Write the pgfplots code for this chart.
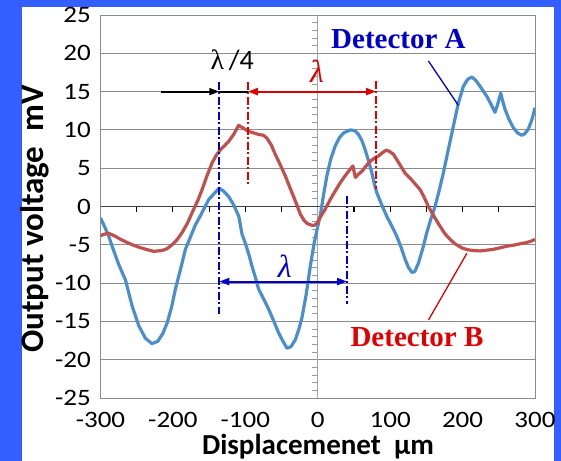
\documentclass[border=0pt]{standalone}
\usepackage{fontspec}
\setmainfont{Carlito}
\newfontfamily\serif{Liberation Serif}
\newfontfamily\tickfont[FakeStretch=1.15]{Carlito}
\usepackage{pgfplots}
\pgfplotsset{compat=1.18}
\usetikzlibrary{arrows.meta}
\definecolor{slideblue}{HTML}{335FFF}
\definecolor{seriesA}{HTML}{4A8FCB}
\definecolor{seriesB}{HTML}{C0504D}
\definecolor{annA}{HTML}{0000CC}
\definecolor{annB}{HTML}{E00000}

\pgfplotstableread{
x y
-300 -1.5
-294 -2.7
-288.5 -3.9
-283.9 -5.2
-274.7 -7.6
-265.5 -9.6
-256.3 -13.0
-247 -15.6
-238 -17.2
-229 -17.9
-221 -17.6
-214 -16.6
-208 -15.2
-202 -13.2
-196.6 -10.8
-189 -8.0
-182.8 -5.6
-175 -3.8
-169 -2.4
-162 -1.2
-155 0.1
-150.6 0.9
-143 1.7
-136 2.4
-130 2.0
-123 1.3
-116 0.2
-109 -1.3
-104.6 -3.6
-100 -4.8
-95 -6.3
-90.8 -7.8
-86 -9.3
-81.6 -10.8
-74 -12.2
-67.8 -13.4
-61 -14.9
-54 -16.5
-48 -17.6
-42.5 -18.5
-37 -18.3
-31 -17.4
-26 -16.0
-21.8 -14.5
-16 -11.5
-10.3 -7.8
-5 -4.8
0 -2.6
3.4 -1.2
8 1.5
12.6 4.0
18 6.2
24.1 7.9
30 9.0
35.6 9.6
44.8 10.0
51 9.9
56.3 9.4
61 8.6
65.5 7.4
70 6.0
74.7 4.4
78 3.0
81.6 1.8
88 0.3
95.4 -1.3
102 -2.5
109.2 -3.9
115 -5.3
120.7 -6.9
125 -7.9
129.9 -8.6
134 -8.5
139 -7.4
145 -5.5
150.6 -3.4
156 -1.7
162 0.0
168 2.2
173.5 4.4
180 7.3
187.3 10.5
194.2 13.5
201.1 15.7
207 16.6
212.7 16.9
218 16.5
224.1 15.7
229 15.0
233.4 14.4
239 13.4
244.8 12.3
248 13.2
252.7 14.8
255 13.9
258.6 12.7
264 11.4
270 10.3
276 9.6
281.6 9.3
286 9.5
290.8 10.1
296 11.4
300 12.9
}\detA

\pgfplotstableread{
x y
-300 -3.8
-294 -3.6
-288.5 -3.5
-279.3 -3.9
-272 -4.3
-265.5 -4.6
-256 -5.0
-247.2 -5.3
-237 -5.6
-226.5 -5.85
-215 -5.75
-208 -5.5
-201.1 -5.0
-194 -4.3
-187.3 -3.4
-180 -2.2
-173.5 -0.8
-166 0.7
-159.7 2.2
-153 4.0
-145.9 5.7
-140 6.7
-134.5 7.4
-128 8.0
-123 8.5
-116.1 9.4
-109.2 10.6
-102.3 10.2
-95.4 9.8
-88 9.6
-81.6 9.4
-75 9.3
-70 8.9
-64 8.0
-58.6 6.8
-52 5.5
-44.8 4.0
-39 2.6
-33.4 1.3
-28 0.0
-24.1 -1.0
-19 -1.8
-14.9 -2.2
-10 -2.4
-5.8 -2.5
-1 -2.2
3.4 -1.4
10 -0.4
17.2 0.9
24 2.0
31 3.1
37 3.9
42.5 4.6
46 5.0
48.6 5.3
50.5 4.4
52 3.8
56 4.2
61 4.6
66 5.2
72.4 5.9
78 6.3
83.9 6.6
89 7.0
94.5 7.35
99 7.2
104.6 6.8
110 6.0
116.1 5.05
121 4.3
127.6 3.7
134 3.0
141.4 2.2
147 1.2
152.8 0.0
160 -1.2
169 -2.6
176 -3.6
182.8 -4.3
190 -4.9
198.9 -5.4
207 -5.65
214.9 -5.75
224 -5.8
233.4 -5.7
242 -5.6
251.7 -5.4
260 -5.2
270 -5.05
278 -4.9
286.2 -4.75
294 -4.55
300 -4.3
}\detB

\begin{document}
\begin{tikzpicture}
\path[use as bounding box] (0,0) rectangle (561bp,461bp);
\fill[slideblue] (0,0) rectangle (561bp,461bp);
\fill[white] (22bp,0) rectangle (554bp,454bp);
% small ticks along the two zero lines (axis box: x 100.5..535, y 63..446 bp)
\foreach \k in {-24,...,24}
  \draw[black!40, line width=0.8bp] (317.75bp, {254.5bp+\k*7.66bp}) -- ++(-6bp,0);
\foreach \k in {-5,...,5}
  \draw[black, line width=1.1bp] ({317.75bp+\k*36.208bp}, 254.5bp) -- ++(0,-6bp);
\begin{axis}[
  at={(100.5bp,63bp)}, anchor=south west,
  scale only axis, width=434.5bp, height=383bp,
  xmin=-300, xmax=300, ymin=-25, ymax=25,
  xtick={-300,-200,...,300}, ytick={-25,-20,...,25},
  major tick length=0pt,
  ymajorgrids, grid style={black!45, line width=0.9bp},
  axis line style={black!45, line width=0.9bp},
  /pgf/number format/assume math mode=true,
  tick label style={font=\tickfont\fontsize{23.5bp}{23.5bp}\selectfont},
  yticklabel style={inner sep=0pt, anchor=east, xshift=-9.5bp},
  xticklabel style={inner sep=0pt, anchor=north, yshift=-14bp},
]
\draw[black!35, line width=1bp] (axis cs:0,-25) -- (axis cs:0,25);
\draw[black!75, line width=1.1bp] (axis cs:-300,0) -- (axis cs:300,0);

\addplot[seriesA, line width=3.2bp, line join=round] table[x=x, y=y] {\detA};
\addplot[seriesB, line width=3.2bp, line join=round] table[x=x, y=y] {\detB};

% wavelength markers
\draw[annA, line width=1.7bp, dash pattern=on 8bp off 2.5bp on 2bp off 2.5bp] (axis cs:-136,16.3) -- (axis cs:-136,-14.0);
\draw[annB, line width=1.7bp, dash pattern=on 8bp off 2.5bp on 2bp off 2.5bp] (axis cs:-96.6,16.3) -- (axis cs:-96.6,3.0);
\draw[annB, line width=1.7bp, dash pattern=on 8bp off 2.5bp on 2bp off 2.5bp] (axis cs:80.5,16.4) -- (axis cs:80.5,2.3);
\draw[annA, line width=1.7bp, dash pattern=on 8bp off 2.5bp on 2bp off 2.5bp] (axis cs:40.5,1.4) -- (axis cs:40.5,-12.7);

\draw[black, line width=2bp, -{Triangle[length=10bp,width=7bp]}] (axis cs:-216,15) -- (axis cs:-136,15);
\draw[black, line width=2bp] (axis cs:-136,15) -- (axis cs:-96.6,15);
\draw[annB, line width=2bp, {Triangle[length=10bp,width=7bp]}-{Triangle[length=10bp,width=7bp]}] (axis cs:-96.6,15) -- (axis cs:80.5,15);
\draw[annA, line width=2bp, {Triangle[length=10bp,width=7bp]}-{Triangle[length=10bp,width=7bp]}] (axis cs:-136,-9.8) -- (axis cs:40.5,-9.8);

\node[font=\fontsize{28bp}{28bp}\selectfont] at (axis cs:-118,19.1) {{\serif λ}\,/4};
\node[annB, font=\serif\itshape\fontsize{32bp}{32bp}\selectfont] at (axis cs:-1,17.7) {λ};
\node[annA, font=\serif\itshape\fontsize{32bp}{32bp}\selectfont] at (axis cs:-45.6,-7.8) {λ};

% series labels
\node[annA, font=\serif\bfseries\fontsize{29bp}{29bp}\selectfont] at (axis cs:111.4,21.9) {Detector A};
\draw[annA, line width=1.3bp] (axis cs:152.8,19.0) -- (axis cs:194.2,13.2);
\node[annB, font=\serif\bfseries\fontsize{29bp}{29bp}\selectfont] at (axis cs:137,-17.1) {Detector B};
\draw[annB, line width=1.3bp] (axis cs:153,-14.8) -- (axis cs:206,-6.1);
\end{axis}
\node[rotate=90, anchor=base, font=\bfseries\fontsize{33bp}{33bp}\selectfont] at (43bp,242bp) {Output voltage\ \ mV};
\node[anchor=base, inner sep=0pt, font=\bfseries\fontsize{29bp}{29bp}\selectfont] at (318bp,7bp) {Displacemenet\ \ µm};
\end{tikzpicture}
\end{document}
